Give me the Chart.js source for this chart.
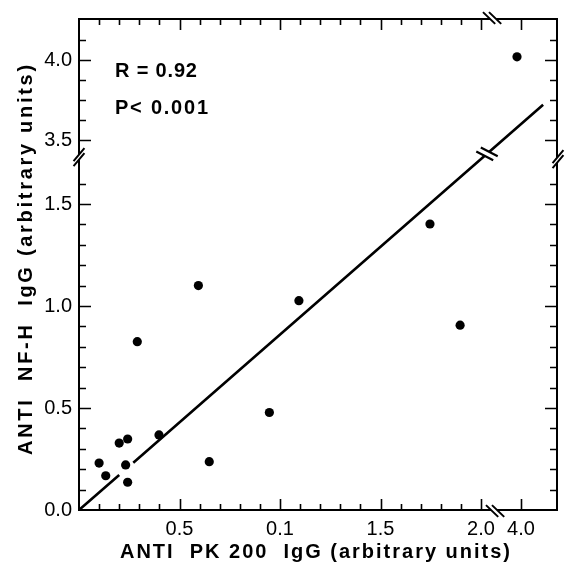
<!DOCTYPE html>
<html><head><meta charset="utf-8">
<script src="https://cdn.jsdelivr.net/npm/chart.js@4/dist/chart.umd.min.js"></script>
<style>html,body{margin:0;padding:0;background:#fff;}canvas{display:block}</style>
</head><body>
<canvas id="c" width="567" height="571"></canvas>
<script>
// ---- data ----
const pk200 = [0.100, 0.133, 0.200, 0.242, 0.232, 0.242, 0.290, 0.398, 0.594, 0.648, 0.947, 1.094, 1.746, 1.896, 3.98];
const nfh   = [0.230, 0.168, 0.328, 0.348, 0.221, 0.136, 0.825, 0.368, 1.100, 0.237, 0.478, 1.026, 1.402, 0.906, 4.02];
// regression line (with the small gap near the origin cluster)
const fitX = [0, 0.200, null, 0.270, 4.11];
const fitY = [0, 0.172, null, 0.232, 3.72];
const xTickValues = [0.5, 1.0, 1.5, 2.0, 4.0];
const xTickLabels = ['0.5', '0.1', '1.5', '2.0', '4.0'];
const yTickValues = [0.0, 0.5, 1.0, 1.5, 3.5, 4.0];
const yTickLabels = ['0.0', '0.5', '1.0', '1.5', '3.5', '4.0'];
const xMinorTicks = [0.1,0.2,0.3,0.4,0.6,0.7,0.8,0.9,1.1,1.2,1.3,1.4,1.6,1.7,1.8,1.9];
const yMinorTicks = [0.1,0.2,0.3,0.4,0.6,0.7,0.8,0.9,1.1,1.2,1.3,1.4,1.6,3.625,3.75,3.875,4.125];
const xTitle = 'ANTI  PK 200  IgG (arbitrary units)';
const yTitle = 'ANTI  NF-H  IgG (arbitrary units)';
const statR = 'R = 0.92';
const statP = 'P< 0.001';

// ---- broken-axis mapping (value -> axis position) ----
function xPos(v){ return v == null ? null : (v <= 2.5 ? v : 2.199 + (v - 4.0)); }
function yPos(v){ return v == null ? null : (v <= 2.5 ? v : 1.8137 + 0.7843 * (v - 3.5)); }
const X_MAX = 2.378, Y_MAX = 2.407;
const X_BREAK = 2.07, Y_BREAK = 1.73;

const FONT = "'Liberation Sans', Arial, Helvetica, sans-serif";

function fitText(ctx, text, x, y, width, align){
  ctx.letterSpacing = '0px';
  const w0 = ctx.measureText(text).width;
  const n = [...text].length;
  const ls = n > 1 ? (width - w0) / (n - 1) : 0;
  ctx.letterSpacing = ls.toFixed(2) + 'px';
  ctx.textAlign = 'left';
  ctx.fillText(text, align === 'center' ? x - width / 2 : x, y);
  ctx.letterSpacing = '0px';
}

function breakMark(ctx, cx, cy, axis, dir, len, gap, lw){
  const ox = axis[0] * gap / 2, oy = axis[1] * gap / 2;
  const hx = dir[0] * len / 2, hy = dir[1] * len / 2;
  ctx.save();
  ctx.fillStyle = '#fff';
  ctx.beginPath();
  ctx.moveTo(cx - ox - hx, cy - oy - hy);
  ctx.lineTo(cx - ox + hx, cy - oy + hy);
  ctx.lineTo(cx + ox + hx, cy + oy + hy);
  ctx.lineTo(cx + ox - hx, cy + oy - hy);
  ctx.closePath();
  ctx.fill();
  ctx.strokeStyle = '#000';
  ctx.lineWidth = lw;
  ctx.lineCap = 'butt';
  ctx.beginPath();
  ctx.moveTo(cx - ox - hx, cy - oy - hy); ctx.lineTo(cx - ox + hx, cy - oy + hy);
  ctx.moveTo(cx + ox - hx, cy + oy - hy); ctx.lineTo(cx + ox + hx, cy + oy + hy);
  ctx.stroke();
  ctx.restore();
}

const decor = {
  id: 'decor',
  afterDraw(chart){
    const ctx = chart.ctx, a = chart.chartArea;
    const xs = chart.scales.x, ys = chart.scales.y;
    ctx.save();
    ctx.strokeStyle = '#000';
    ctx.lineWidth = 2;
    ctx.strokeRect(a.left, a.top, a.right - a.left, a.bottom - a.top);
    // inward ticks on all four sides
    ctx.lineWidth = 1.6;
    ctx.beginPath();
    const xt = xMinorTicks.map(v => [v, 6]).concat(xTickValues.map(v => [v, 11]));
    xt.forEach(([v, L]) => {
      const p = Math.round(xs.getPixelForValue(xPos(v))) + 0.5;
      ctx.moveTo(p, a.bottom); ctx.lineTo(p, a.bottom - L);
      ctx.moveTo(p, a.top); ctx.lineTo(p, a.top + L);
    });
    const yt = yMinorTicks.map(v => [v, 7]).concat(yTickValues.filter(v => v > 0).map(v => [v, 12]));
    yt.forEach(([v, L]) => {
      const p = Math.round(ys.getPixelForValue(yPos(v))) + 0.5;
      ctx.moveTo(a.left, p); ctx.lineTo(a.left + L, p);
      ctx.moveTo(a.right, p); ctx.lineTo(a.right - L, p);
    });
    ctx.stroke();
    // axis breaks
    const bx = xs.getPixelForValue(X_BREAK), by = ys.getPixelForValue(Y_BREAK);
    const s50 = [0.64, -0.77];
    breakMark(ctx, a.left, by, [0, 1], s50, 17, 5, 2);
    breakMark(ctx, a.right + 1, by + 2, [0, 1], s50, 17, 5, 2);
    breakMark(ctx, bx, a.bottom + 1, [1, 0], [0.72, 0.69], 17, 6, 2);
    breakMark(ctx, bx - 3, a.top - 1, [1, 0], [0.72, 0.69], 17, 6, 2);
    // break on the regression line
    const meta = chart.getDatasetMeta(1).data;
    const p0 = meta[3], p1 = meta[4];
    const tx = 487;
    const t = (tx - p0.x) / (p1.x - p0.x);
    const ly = p0.y + t * (p1.y - p0.y);
    const dx = p1.x - p0.x, dy = p1.y - p0.y, dl = Math.hypot(dx, dy);
    breakMark(ctx, tx, ly, [dx / dl, dy / dl], [0.89, 0.46], 19, 6, 2.2);
    // statistics text
    ctx.fillStyle = '#000';
    ctx.textBaseline = 'middle';
    ctx.font = 'bold 20px ' + FONT;
    fitText(ctx, statR, 115, 71, 82, 'left');
    fitText(ctx, statP, 115, 108, 93, 'left');
    // axis titles
    ctx.font = 'bold 20px ' + FONT;
    fitText(ctx, xTitle, 315, 552, 390, 'center');
    ctx.save();
    ctx.translate(26, 260);
    ctx.rotate(-Math.PI / 2);
    fitText(ctx, yTitle, 0, 0, 390, 'center');
    ctx.restore();
    ctx.restore();
  }
};

const points = pk200.map((x, i) => ({ x: xPos(x), y: yPos(nfh[i]) }));
const fitLine = fitX.map((x, i) => (x == null ? { x: null, y: null } : { x: xPos(x), y: yPos(fitY[i]) }));

new Chart(document.getElementById('c'), {
  type: 'scatter',
  data: {
    datasets: [
      { data: points, pointRadius: 4.6, pointHoverRadius: 4.6, backgroundColor: '#000', borderWidth: 0, order: 0 },
      { data: fitLine, showLine: true, spanGaps: false, borderColor: '#000', borderWidth: 2.6, pointRadius: 0, fill: false, order: 1 }
    ]
  },
  options: {
    responsive: false,
    animation: false,
    events: [],
    layout: { autoPadding: false, padding: { left: 0, right: 10, top: 19, bottom: 0 } },
    plugins: { legend: { display: false }, tooltip: { enabled: false } },
    scales: {
      x: {
        type: 'linear', min: 0, max: X_MAX, bounds: 'data',
        grid: { display: false, drawTicks: false }, border: { display: false },
        afterBuildTicks: s => { s.ticks = xTickValues.map(v => ({ value: xPos(v) })); },
        afterFit: s => { s.height = 61; },
        ticks: { autoSkip: false, maxRotation: 0, padding: 7, color: '#000',
                 font: { family: FONT, size: 20 },
                 callback: (v, i) => xTickLabels[i] }
      },
      y: {
        type: 'linear', min: 0, max: Y_MAX, bounds: 'data',
        grid: { display: false, drawTicks: false }, border: { display: false },
        afterBuildTicks: s => { s.ticks = yTickValues.map(v => ({ value: yPos(v) })); },
        afterFit: s => { s.width = 79; },
        ticks: { autoSkip: false, padding: 7, color: '#000',
                 font: { family: FONT, size: 20 },
                 callback: (v, i) => yTickLabels[i] }
      }
    }
  },
  plugins: [decor]
});
</script>
</body></html>
